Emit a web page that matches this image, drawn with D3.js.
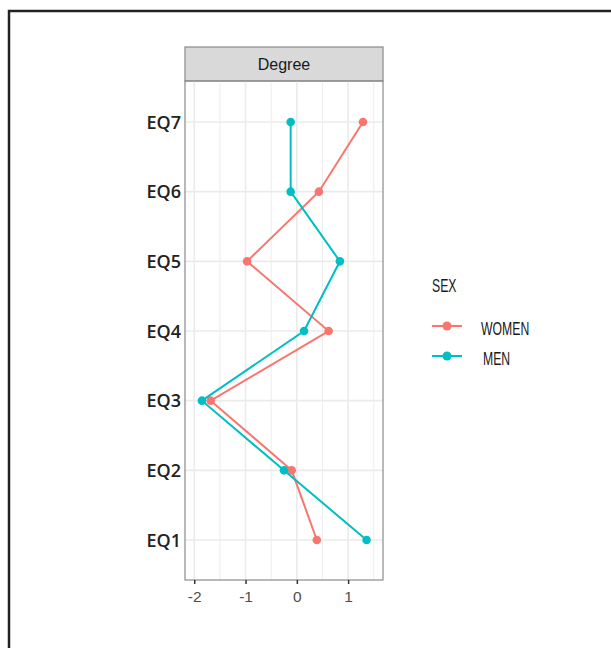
<!DOCTYPE html>
<html>
<head>
<meta charset="utf-8">
<script src="https://cdn.jsdelivr.net/npm/d3@7"></script>
<style>
  body { margin: 0; background: #fff; }
  svg { display: block; }
</style>
</head>
<body>
<svg id="chart" width="611" height="648"></svg>
<script>
var questions = ["EQ1", "EQ2", "EQ3", "EQ4", "EQ5", "EQ6", "EQ7"];
var women = [0.39, -0.1, -1.68, 0.62, -0.97, 0.43, 1.29];
var men = [1.36, -0.25, -1.85, 0.14, 0.84, -0.12, -0.12];
var xTicks = [-2, -1, 0, 1];
var seriesNames = ["WOMEN", "MEN"];
var seriesColors = ["#F8766D", "#00BFC4"];

var svg = d3.select("#chart");

// outer frame (only left and top edges are visible)
svg.append("path")
  .attr("d", "M9,648 V11 H611")
  .attr("fill", "none")
  .attr("stroke", "#222")
  .attr("stroke-width", 2.5);

var left = 185, right = 383, stripTop = 47, stripBottom = 81, bottom = 580;

var x = d3.scaleLinear()
  .domain([-2.18, 1.68])
  .range([left, right]);

var y = d3.scalePoint()
  .domain(questions)
  .range([540, 122]);

// strip
svg.append("rect")
  .attr("x", left).attr("y", stripTop)
  .attr("width", right - left).attr("height", stripBottom - stripTop)
  .attr("fill", "#D9D9D9")
  .attr("stroke", "#8a8a8a").attr("stroke-width", 1.2);
svg.append("text")
  .attr("x", (left + right) / 2).attr("y", (stripTop + stripBottom) / 2 + 6)
  .attr("text-anchor", "middle")
  .attr("font-family", "Liberation Sans, Arial, sans-serif")
  .attr("font-size", 16)
  .attr("fill", "#1a1a1a")
  .text("Degree");

// grid
var g = svg.append("g");
var minor = d3.range(-2.5, 2, 0.5).filter(function(d) { return x(d) > left && x(d) < right; });
g.selectAll(".gx").data(minor).enter().append("line")
  .attr("x1", function(d) { return x(d); }).attr("x2", function(d) { return x(d); })
  .attr("y1", stripBottom).attr("y2", bottom)
  .attr("stroke", "#EBEBEB")
  .attr("stroke-width", function(d) { return Number.isInteger(d) ? 1.6 : 0.9; });
g.selectAll(".gy").data(questions).enter().append("line")
  .attr("x1", left).attr("x2", right)
  .attr("y1", function(d) { return y(d); }).attr("y2", function(d) { return y(d); })
  .attr("stroke", "#EBEBEB").attr("stroke-width", 1.6);

// panel border
svg.append("rect")
  .attr("x", left).attr("y", stripBottom)
  .attr("width", right - left).attr("height", bottom - stripBottom)
  .attr("fill", "none").attr("stroke", "#8a8a8a").attr("stroke-width", 1.2);

// series
var series = [women, men];
var line = d3.line()
  .x(function(d) { return x(d.v); })
  .y(function(d) { return y(d.q); });

series.forEach(function(vals, i) {
  var pts = vals.map(function(v, j) { return { q: questions[j], v: v }; });
  svg.append("path")
    .attr("d", line(pts))
    .attr("fill", "none")
    .attr("stroke", seriesColors[i])
    .attr("stroke-width", 2);
  svg.selectAll(".p" + i).data(pts).enter().append("circle")
    .attr("cx", function(d) { return x(d.v); })
    .attr("cy", function(d) { return y(d.q); })
    .attr("r", 4.3)
    .attr("fill", seriesColors[i]);
});

// x axis
var xAxis = svg.append("g")
  .attr("transform", "translate(0," + bottom + ")")
  .call(d3.axisBottom(x).tickValues(xTicks).tickSize(4).tickFormat(d3.format("d")));
xAxis.select(".domain").remove();
xAxis.selectAll(".tick line").attr("stroke", "#333").attr("stroke-width", 1.5);
xAxis.selectAll(".tick text")
  .attr("font-family", "Liberation Sans, Arial, sans-serif")
  .attr("font-size", 15.5)
  .attr("fill", "#4d4d4d")
  .attr("dy", "0.95em")
  .text(function(d) { return d < 0 ? "-" + Math.abs(d) : d; });

// y axis labels
svg.selectAll(".ylab").data(questions).enter().append("text")
  .attr("x", 181)
  .attr("y", function(d) { return y(d) + 6.5; })
  .attr("text-anchor", "end")
  .attr("font-family", "Open Sans, DejaVu Sans, sans-serif")
  .attr("font-weight", 600)
  .attr("font-size", 18)
  .attr("fill", "#222")
  .text(function(d) { return d; });

// legend (condensed text like Arial Narrow)
var lg = svg.append("g");
function narrowText(tx, ty, s) {
  lg.append("text")
    .attr("transform", "translate(" + tx + "," + ty + ") scale(0.68,1)")
    .attr("font-family", "Liberation Sans, Arial, sans-serif")
    .attr("font-size", 18)
    .attr("fill", "#1a1a1a")
    .text(s);
}
narrowText(432, 292, "SEX");
seriesNames.forEach(function(name, i) {
  var ky = 326 + i * 30;
  lg.append("line")
    .attr("x1", 432).attr("x2", 462).attr("y1", ky).attr("y2", ky)
    .attr("stroke", seriesColors[i]).attr("stroke-width", 2);
  lg.append("circle")
    .attr("cx", 447).attr("cy", ky).attr("r", 4.5)
    .attr("fill", seriesColors[i]);
  narrowText(481 + i * 2, ky + 9, name);
});
</script>
</body>
</html>
